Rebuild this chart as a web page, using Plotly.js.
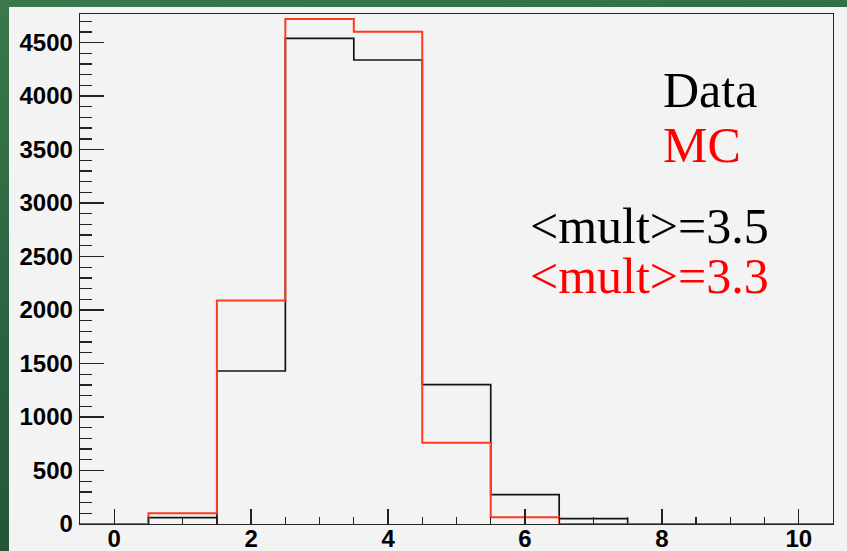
<!DOCTYPE html>
<html>
<head>
<meta charset="utf-8">
<script src="https://cdn.plot.ly/plotly-3.0.1.min.js"></script>
<style>
  html, body { margin: 0; padding: 0; width: 847px; height: 551px; overflow: hidden; }
  body { background: linear-gradient(170deg, #3a784c 0%, #2b6441 45%, #1f4d33 100%); }
  #plot { position: absolute; left: 9px; top: 7px; width: 838px; height: 544px; }
</style>
</head>
<body>
<div id="plot"></div>
<script>
// Multiplicity bins (integer values, unit-width bins centred on each integer)
const bins = [0, 1, 2, 3, 4, 5, 6, 7, 8, 9, 10];
// Entries per bin
const dataCounts = [0, 60, 1430, 4540, 4337, 1303, 274, 50, 0, 0, 0];
const mcCounts   = [0, 100, 2090, 4721, 4602, 760, 63, 0, 0, 0, 0];

const xTickVals = [0, 2, 4, 6, 8, 10];
const yTickVals = [0, 500, 1000, 1500, 2000, 2500, 3000, 3500, 4000, 4500];

// Turn bin contents into a step outline running along the bin edges
function stepOutline(centres, counts) {
  const xs = centres.map(c => c - 0.5);
  xs.push(centres[centres.length - 1] + 0.5);
  const ys = counts.slice();
  ys.push(counts[counts.length - 1]);
  return { x: xs, y: ys };
}

const dataStep = stepOutline(bins, dataCounts);
const mcStep = stepOutline(bins, mcCounts);

const traces = [
  {
    type: 'scatter', mode: 'lines', name: 'Data',
    x: dataStep.x, y: dataStep.y,
    line: { shape: 'hv', color: '#141414', width: 1.7 },
    cliponaxis: false, hoverinfo: 'skip'
  },
  {
    type: 'scatter', mode: 'lines', name: 'MC',
    x: mcStep.x, y: mcStep.y,
    line: { shape: 'hv', color: '#ff3a1e', width: 2 },
    cliponaxis: false, hoverinfo: 'skip'
  }
];

const tickFont = { family: "'Liberation Sans', Arial, sans-serif", size: 24, color: '#000', weight: 'bold' };
const textFont = (color) => ({ family: "'Liberation Serif', 'Times New Roman', serif", size: 50, color: color });

const layout = {
  width: 838, height: 544,
  paper_bgcolor: '#f3f3f3', plot_bgcolor: '#f3f3f3',
  margin: { l: 71, r: 14, t: 7, b: 27, pad: 0 },
  showlegend: false,
  xaxis: {
    range: [-0.5, 10.5], tickvals: xTickVals,
    ticks: 'inside', ticklen: 15, tickwidth: 1.3, tickcolor: '#222',
    minor: { dtick: 0.5, tick0: 0, ticks: 'inside', ticklen: 7, tickwidth: 1.3, tickcolor: '#222', showgrid: false },
    showline: true, linecolor: '#222', linewidth: 1.3, mirror: true,
    showgrid: false, zeroline: false,
    tickfont: tickFont,
    ticklabelstandoff: -7
  },
  yaxis: {
    range: [0, 4767], tickvals: yTickVals,
    ticks: 'inside', ticklen: 24, tickwidth: 1.3, tickcolor: '#222',
    minor: { dtick: 100, tick0: 0, ticks: 'inside', ticklen: 12, tickwidth: 1.3, tickcolor: '#222', showgrid: false },
    showline: true, linecolor: '#222', linewidth: 1.3, mirror: true,
    showgrid: false, zeroline: false,
    tickfont: tickFont,
    ticklabelstandoff: 1
  },
  annotations: [
    { text: 'Data', x: 0.772, y: 0.851, font: textFont('#000') },
    { text: 'MC', x: 0.772, y: 0.743, font: textFont('#ff0000') },
    { text: '&lt;mult&gt;=3.5', x: 0.595, y: 0.585, font: textFont('#000') },
    { text: '&lt;mult&gt;=3.3', x: 0.595, y: 0.486, font: textFont('#ff0000') }
  ].map(a => Object.assign({ xref: 'paper', yref: 'paper', xanchor: 'left', yanchor: 'middle', showarrow: false }, a))
};

Plotly.newPlot('plot', traces, layout, { displayModeBar: false, staticPlot: true });
</script>
</body>
</html>
